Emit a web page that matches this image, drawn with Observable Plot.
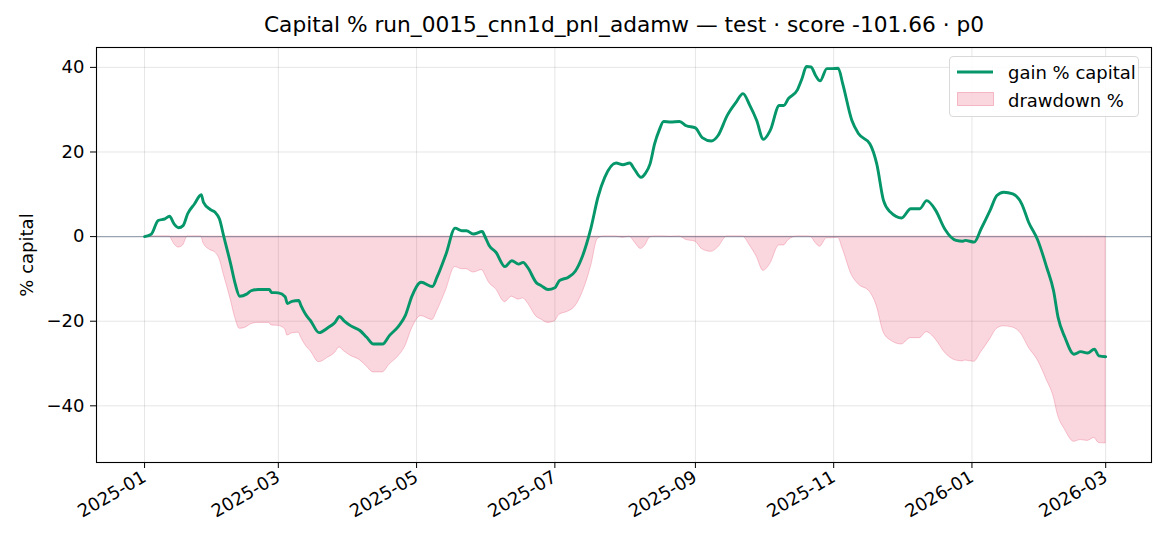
<!DOCTYPE html>
<html>
<head>
<meta charset="utf-8">
<script src="https://cdn.jsdelivr.net/npm/d3@7"></script>
<script src="https://cdn.jsdelivr.net/npm/@observablehq/plot@0.6"></script>
<style>
  html, body { margin: 0; padding: 0; background: #fff; }
  #wrap { position: relative; width: 1170px; height: 546px; font-family: "DejaVu Sans", sans-serif; }
  #legend { position: absolute; left: 949px; top: 56px; width: 190px; height: 61px; box-sizing: border-box;
            border: 1px solid #d9d9d9; border-radius: 4px; background: rgba(255,255,255,0.85); font-size: 18px; color: #000; }
  .row { position: absolute; left: 0; height: 19px; line-height: 19px; }
  .row .lab { position: absolute; left: 58px; white-space: nowrap; }
  .row svg { position: absolute; left: 7px; top: 0; }
</style>
</head>
<body>
<div id="wrap"></div>
<script>
const titleText = "Capital % run_0015_cnn1d_pnl_adamw — test · score -101.66 · p0";
const yLabel = "% capital";
const legendLabels = ["gain % capital", "drawdown %"];

const dates = [
  "2025-01-01","2025-01-04","2025-01-07","2025-01-10","2025-01-12","2025-01-14","2025-01-16","2025-01-18",
  "2025-01-20","2025-01-23","2025-01-26","2025-01-27","2025-01-30","2025-02-01","2025-02-03","2025-02-05",
  "2025-02-08","2025-02-10","2025-02-12","2025-02-15","2025-02-17","2025-02-20","2025-02-25","2025-02-26",
  "2025-03-01","2025-03-04","2025-03-05","2025-03-07","2025-03-10","2025-03-11","2025-03-14","2025-03-15",
  "2025-03-19","2025-03-23","2025-03-26","2025-03-28","2025-03-30","2025-04-02","2025-04-06","2025-04-09",
  "2025-04-12","2025-04-16","2025-04-19","2025-04-23","2025-04-26","2025-04-29","2025-05-03","2025-05-08",
  "2025-05-10","2025-05-14","2025-05-18","2025-05-21","2025-05-23","2025-05-26","2025-05-30","2025-05-31",
  "2025-06-02","2025-06-05","2025-06-09","2025-06-12","2025-06-15","2025-06-17","2025-06-19","2025-06-23",
  "2025-06-25","2025-06-28","2025-07-01","2025-07-03","2025-07-07","2025-07-10","2025-07-13","2025-07-15",
  "2025-07-17","2025-07-20","2025-07-23","2025-07-28","2025-07-31","2025-08-03","2025-08-05","2025-08-08",
  "2025-08-10","2025-08-12","2025-08-14","2025-08-16","2025-08-18","2025-08-21","2025-08-25","2025-08-28",
  "2025-09-01","2025-09-04","2025-09-08","2025-09-11","2025-09-15","2025-09-19","2025-09-22","2025-09-25",
  "2025-09-28","2025-10-01","2025-10-04","2025-10-08","2025-10-10","2025-10-12","2025-10-16","2025-10-18",
  "2025-10-20","2025-10-22","2025-10-24","2025-10-26","2025-10-29","2025-10-31","2025-11-03","2025-11-05",
  "2025-11-09","2025-11-12","2025-11-17","2025-11-20","2025-11-23","2025-11-26","2025-12-01","2025-12-05",
  "2025-12-09","2025-12-12","2025-12-16","2025-12-20","2025-12-25","2025-12-28","2025-12-29","2026-01-02",
  "2026-01-05","2026-01-09","2026-01-12","2026-01-15","2026-01-19","2026-01-23","2026-01-26","2026-01-30",
  "2026-02-03","2026-02-06","2026-02-08","2026-02-11","2026-02-15","2026-02-18","2026-02-21","2026-02-24",
  "2026-02-26","2026-03-01"
];

const gain = [
  0.0, 0.6, 3.8, 4.2, 4.8, 3.0, 2.1, 2.6,
  5.4, 7.7, 9.9, 8.1, 6.4, 5.8, 4.2, -0.1,
  -6.5, -11.2, -14.1, -13.6, -12.8, -12.5, -12.5, -13.2,
  -13.3, -14.2, -15.8, -15.3, -15.1, -16.3, -19.1, -19.7,
  -22.7, -21.5, -20.3, -18.9, -19.9, -21.1, -22.2, -23.8,
  -25.4, -25.4, -23.4, -21.2, -18.7, -14.0, -10.8, -11.8,
  -9.6, -4.1, 2.0, 1.4, 1.4, 0.6, 1.2, 0.2,
  -2.1, -3.7, -7.1, -5.7, -6.5, -6.1, -7.3, -11.0,
  -11.6, -12.5, -12.1, -10.4, -9.6, -8.2, -4.9, -1.7,
  2.2, 9.3, 14.0, 17.4, 17.0, 17.4, 16.0, 14.0,
  15.0, 17.2, 21.9, 25.1, 27.2, 27.1, 27.2, 26.2,
  25.7, 23.4, 22.6, 23.9, 28.6, 31.8, 33.8, 31.0,
  27.5, 23.0, 25.1, 31.0, 31.0, 32.6, 34.7, 37.3,
  40.2, 40.1, 38.1, 36.8, 39.7, 39.7, 39.8, 36.1,
  27.5, 24.3, 21.9, 17.2, 8.5, 5.8, 4.4, 6.6,
  6.6, 8.5, 6.2, 1.8, -0.9, -1.1, -0.9, -1.3,
  1.8, 6.2, 9.7, 10.5, 10.1, 7.7, 3.4, -0.8,
  -7.3, -12.8, -19.1, -23.8, -27.8, -27.2, -27.5, -26.6,
  -28.2, -28.4
];

const drawdown = [
  0, 0, 0, 0, 0, -1.7, -2.6, -2.1,
  0, 0, 0, -1.6, -3.2, -3.7, -5.2, -9.1,
  -14.9, -19.2, -21.8, -21.4, -20.7, -20.4, -20.4, -21.0,
  -21.1, -21.9, -23.4, -22.9, -22.7, -23.8, -26.4, -26.9,
  -29.7, -28.6, -27.5, -26.2, -27.1, -28.2, -29.2, -30.7,
  -32.1, -32.1, -30.3, -28.3, -26.0, -21.7, -18.8, -19.7,
  -17.7, -12.7, -7.2, -7.7, -7.7, -8.5, -7.9, -8.8,
  -10.9, -12.4, -15.5, -14.2, -14.9, -14.6, -15.7, -19.0,
  -19.6, -20.4, -20.0, -18.5, -17.7, -16.5, -13.5, -10.6,
  -7.0, -0.5, 0, 0, -0.3, 0, -1.2, -2.9,
  -2.0, -0.2, 0, 0, 0, -0.1, 0, -0.8,
  -1.2, -3.0, -3.6, -2.6, 0, 0, 0, -2.1,
  -4.7, -8.1, -6.5, -2.1, -2.1, -0.9, 0, 0,
  0, -0.1, -1.5, -2.4, -0.4, -0.4, -0.3, -2.9,
  -9.1, -11.3, -13.1, -16.4, -22.6, -24.5, -25.5, -24.0,
  -24.0, -22.6, -24.3, -27.4, -29.3, -29.5, -29.3, -29.6,
  -27.4, -24.3, -21.8, -21.2, -21.5, -23.2, -26.2, -29.2,
  -33.9, -37.8, -42.3, -45.6, -48.5, -48.1, -48.3, -47.6,
  -48.8, -48.9
];

const xTickDates = ["2025-01-01","2025-03-01","2025-05-01","2025-07-01","2025-09-01","2025-11-01","2026-01-01","2026-03-01"];
const yTicks = [-40, -20, 0, 20, 40];
const xDomain = ["2024-12-10T19:00:00Z", "2026-03-21T05:00:00Z"];
const yDomain = [-53.4, 44.7];

const GREEN = "#059669";
const ROSE = "#e11d48";

const data = dates.map((d, i) => ({date: new Date(d + "T00:00:00Z"), gain: gain[i], dd: drawdown[i]}));
const xTicks = xTickDates.map(d => new Date(d + "T00:00:00Z"));

const chart = Plot.plot({
  width: 1170,
  height: 546,
  marginLeft: 96,
  marginRight: 19,
  marginTop: 47,
  marginBottom: 84,
  style: {fontFamily: "DejaVu Sans, sans-serif", fontSize: "18px", background: "white", color: "black", overflow: "visible"},
  x: {type: "utc", domain: xDomain.map(d => new Date(d))},
  y: {domain: yDomain},
  marks: [
    Plot.gridX(xTicks, {stroke: "#000", strokeOpacity: 0.1}),
    Plot.gridY(yTicks, {stroke: "#000", strokeOpacity: 0.1}),
    Plot.areaY(data, {x: "date", y: "dd", fill: ROSE, fillOpacity: 0.18, stroke: ROSE, strokeOpacity: 0.22, strokeWidth: 1, curve: "monotone-x"}),
    Plot.ruleY([0], {stroke: "#64748b", strokeOpacity: 0.6, strokeWidth: 1.3}),
    Plot.lineY(data, {x: "date", y: "gain", stroke: GREEN, strokeWidth: 2.9, curve: "monotone-x"}),
    Plot.frame({stroke: "#000", strokeWidth: 1.1}),
    Plot.axisX({ticks: xTicks, tickFormat: d3.utcFormat("%Y-%m"), tickRotate: -30, tickSize: 6, tickPadding: 7, label: null, fontSize: 18}),
    Plot.axisY({ticks: yTicks, tickSize: 6, tickPadding: 6, label: yLabel, labelAnchor: "center", labelArrow: "none", labelOffset: 76, fontSize: 18}),
    Plot.text([titleText], {text: d => d, frameAnchor: "top", dy: -16, lineAnchor: "bottom", fontSize: 21.7, fill: "#000"})
  ]
});

const wrap = document.getElementById("wrap");
wrap.appendChild(chart);

const legend = document.createElement("div");
legend.id = "legend";
legend.innerHTML = `
  <div class="row" style="top:6px">
    <svg width="38" height="19"><line x1="0" x2="36" y1="9" y2="9" stroke="${GREEN}" stroke-width="2.9"/></svg>
    <span class="lab">${legendLabels[0]}</span>
  </div>
  <div class="row" style="top:34px">
    <svg width="38" height="19"><rect x="0.5" y="1.5" width="36" height="13" fill="${ROSE}" fill-opacity="0.18" stroke="${ROSE}" stroke-opacity="0.25"/></svg>
    <span class="lab">${legendLabels[1]}</span>
  </div>`;
wrap.appendChild(legend);
</script>
</body>
</html>
